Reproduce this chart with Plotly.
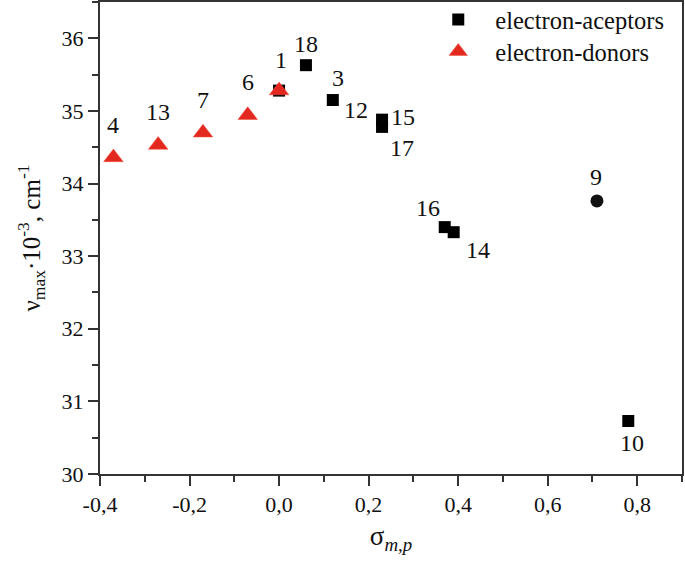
import plotly.graph_objects as go

# sigma_m,p vs nu_max * 10^-3 (cm^-1)
acc_sigma = [0.0, 0.06, 0.12, 0.23, 0.23, 0.37, 0.39, 0.78]
acc_nu = [35.28, 35.63, 35.15, 34.88, 34.78, 33.40, 33.33, 30.73]

don_sigma = [-0.37, -0.27, -0.17, -0.07, 0.0]
don_nu = [34.36, 34.53, 34.70, 34.94, 35.28]

other_sigma = [0.71]
other_nu = [33.76]

# point labels: (text, sigma, nu)
lbl_text = ["4", "13", "7", "6", "1", "18", "3", "12", "15", "17", "16", "14", "9", "10"]
lbl_sigma = [-0.37, -0.27, -0.17, -0.07, 0.0, 0.06, 0.12, 0.12, 0.23, 0.23, 0.37, 0.39, 0.71, 0.78]
lbl_nu = [34.36, 34.53, 34.70, 34.94, 35.28, 35.63, 35.15, 35.15, 34.88, 34.78, 33.40, 33.33, 33.76, 30.73]
# pixel offsets of the label text from its point (dx, dy up)
lbl_shift = [(0, 32), (0, 33), (0, 33), (0, 33), (2, 31), (0, 21), (5, 22), (23, -10),
             (21, 3), (20, -21), (-17, 19), (24, -18), (-1, 24), (4, -22)]

x_ticks = [-0.4, -0.2, 0.0, 0.2, 0.4, 0.6, 0.8]
x_ticktext = ["-0,4", "-0,2", "0,0", "0,2", "0,4", "0,6", "0,8"]
y_ticks = [30, 31, 32, 33, 34, 35, 36]

SERIF = "Liberation Serif"
AXIS_COLOR = "#333333"
TEXT_COLOR = "#111111"

fig = go.Figure()

fig.add_trace(go.Scatter(
    x=acc_sigma, y=acc_nu, mode="markers", name="electron-aceptors", legend="legend",
    marker=dict(symbol="square", size=12, color="black"),
))
fig.add_trace(go.Scatter(
    x=don_sigma, y=don_nu, mode="markers", name="electron-donors", legend="legend2",
    marker=dict(symbol="triangle-up", size=17, color="#e3291f",
                line=dict(color="#f05040", width=0.5)),
))
fig.add_trace(go.Scatter(
    x=other_sigma, y=other_nu, mode="markers", showlegend=False,
    marker=dict(symbol="circle", size=13, color=TEXT_COLOR),
))

for t, sx, ny, (dx, dy) in zip(lbl_text, lbl_sigma, lbl_nu, lbl_shift):
    fig.add_annotation(
        x=sx, y=ny, xref="x", yref="y", text=t, showarrow=False,
        xshift=dx, yshift=dy, font=dict(family=SERIF, size=24, color=TEXT_COLOR),
    )

fig.update_xaxes(
    range=[-0.4, 0.9], tickvals=x_ticks, ticktext=x_ticktext,
    showline=True, linecolor=AXIS_COLOR, linewidth=2, mirror=True,
    ticks="outside", ticklen=10, tickwidth=2, tickcolor=AXIS_COLOR,
    showgrid=False, zeroline=False, automargin=False,
    tickfont=dict(family=SERIF, size=22, color=TEXT_COLOR),
    minor=dict(dtick=0.1, tick0=-0.4, ticks="outside", ticklen=6, tickwidth=2, tickcolor=AXIS_COLOR),
    title=dict(text="σ<sub><i>m,p</i></sub>", font=dict(family=SERIF, size=27, color=TEXT_COLOR), standoff=10),
)
fig.update_yaxes(
    range=[30, 36.5], tickvals=y_ticks,
    showline=True, linecolor=AXIS_COLOR, linewidth=2, mirror=True,
    ticks="outside", ticklen=10, tickwidth=2, tickcolor=AXIS_COLOR,
    showgrid=False, zeroline=False, automargin=False,
    tickfont=dict(family=SERIF, size=22, color=TEXT_COLOR),
    minor=dict(dtick=0.5, tick0=30, ticks="outside", ticklen=6, tickwidth=2, tickcolor=AXIS_COLOR),
    title=dict(text="ν<sub>max</sub>·10<sup>-3</sup>, cm<sup>-1</sup>",
               font=dict(family=SERIF, size=25, color=TEXT_COLOR), standoff=14),
)

legend_style = dict(xanchor="left", yanchor="middle", bgcolor="rgba(0,0,0,0)",
                    font=dict(family=SERIF, size=24.5, color=TEXT_COLOR), itemwidth=64)

fig.update_layout(
    width=685, height=566,
    margin=dict(l=100, r=3, t=2, b=92, autoexpand=False),
    font=dict(family=SERIF, color=TEXT_COLOR),
    plot_bgcolor="white", paper_bgcolor="white",
    legend=dict(x=0.552, y=0.963, **legend_style),
    legend2=dict(x=0.552, y=0.895, **legend_style),
)

# drop the default page margin so the figure sits at the window's corner
fig.write_html("out.html", config={"displayModeBar": False},
               post_script="document.body.style.margin='0';")
